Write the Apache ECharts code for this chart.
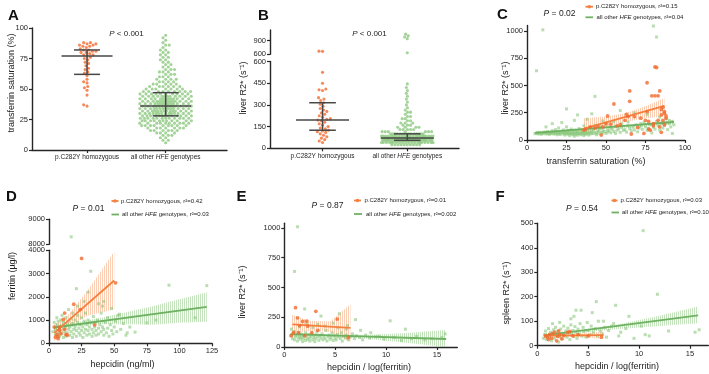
<!DOCTYPE html>
<html>
<head>
<meta charset="utf-8">
<script src="https://cdn.jsdelivr.net/npm/echarts@6/dist/echarts.min.js"></script>
<style>
html, body { margin: 0; padding: 0; background: #fff; }
#main { width: 709px; height: 374px; }
</style>
</head>
<body>
<div id="main"></div>
<script>
// ---- data ----
var groupNames = ['p.C282Y homozygous', 'all other HFE genotypes'];

// A: transferrin saturation (%)
var tsatC282Y = [88, 88, 87, 87, 86, 86, 85, 85, 84, 83, 82, 82, 81, 81, 80, 80, 79, 78, 78, 77,
    76, 75, 74, 72, 71, 69, 67, 66, 64, 63, 61, 58, 56, 55, 52, 51, 49, 45, 37, 36];
var tsatOtherLevel = [6, 8, 10, 12, 14, 16, 18, 20, 22, 24, 26, 28, 30, 32, 34, 36, 38, 40, 42, 44,
    46, 48, 50, 52, 54, 56, 58, 60, 62, 64, 66, 68, 70, 72, 74, 76, 78, 80, 82, 84, 86, 88, 90, 92, 94];
var tsatOtherCount = [1, 2, 2, 3, 4, 6, 7, 9, 10, 11, 12, 13, 14, 14, 14, 14, 14, 14, 13, 12,
    10, 9, 7, 6, 5, 4, 4, 3, 3, 3, 3, 2, 2, 2, 2, 2, 2, 2, 2, 1, 2, 1, 1, 1, 1];
var tsatMedian = [77, 36];
var tsatQ1 = [62, 28];
var tsatQ3 = [82, 47];

// B: liver R2* (s-1)
var liverC282Y = [670, 665, 525, 450, 410, 405, 400, 350, 340, 330, 315, 305, 290, 275, 265, 255, 245,
    235, 225, 215, 205, 200, 195, 190, 180, 170, 160, 150, 140, 135, 125, 120, 115, 110, 100, 90, 80, 70, 60, 50, 40];
var liverOtherLevel = [25, 40, 55, 70, 85, 100, 115, 130, 145, 160, 175, 190, 205, 220, 235, 250, 265, 280,
    300, 320, 340, 360, 380, 400, 420, 445, 635, 945, 980, 1010, 1045];
var liverOtherCount = [10, 20, 28, 30, 22, 14, 7, 5, 4, 3, 3, 2, 2, 2, 1, 2, 1, 1,
    1, 1, 1, 1, 1, 1, 1, 1, 1, 1, 1, 1, 1];
var liverMedian = [195, 72];
var liverQ1 = [125, 55];
var liverQ3 = [315, 100];

// C: transferrin saturation vs liver R2*
var cOrange = [[36, 90], [37, 100], [40, 120], [43, 110], [45, 125], [47, 45], [48, 120], [50, 150], [51, 220],
    [53, 145], [55, 330], [57, 130], [59, 140], [62, 180], [63, 235], [64, 215], [65, 355], [65, 450], [66, 55],
    [68, 215], [70, 115], [72, 200], [74, 60], [75, 180], [76, 525], [76, 260], [77, 100], [77, 170], [78, 90],
    [79, 405], [80, 130], [80, 150], [81, 670], [81, 405], [82, 665], [83, 405], [83, 180], [84, 450], [84, 120],
    [85, 280], [85, 230], [86, 300], [86, 180], [87, 260], [87, 245], [88, 220], [88, 200], [87, 140], [85, 70]];
var cGreen = [[6, 635], [10, 1010], [80, 1045], [82, 945], [43, 400], [25, 285], [41, 240], [32, 230], [59, 270],
    [68, 250], [76, 235], [84, 210], [88, 195], [90, 180], [92, 170], [86, 160], [80, 150], [72, 150], [64, 165],
    [55, 170], [48, 175], [38, 190], [30, 180], [22, 160], [16, 150], [12, 120],
    [5, 58], [6, 62], [7, 55], [7, 70], [8, 60], [9, 52], [9, 66], [10, 58], [11, 63], [11, 72], [12, 55], [12, 68],
    [13, 60], [13, 78], [14, 50], [14, 64], [15, 70], [15, 58], [16, 62], [16, 85], [17, 54], [17, 68], [18, 60],
    [18, 75], [18, 95], [19, 48], [19, 66], [20, 58], [20, 72], [20, 110], [21, 62], [21, 50], [22, 80], [22, 66],
    [23, 55], [23, 70], [23, 92], [24, 45], [24, 62], [24, 78], [25, 58], [25, 68], [25, 120], [26, 52], [26, 74],
    [26, 88], [27, 60], [27, 40], [27, 66], [28, 56], [28, 82], [28, 100], [29, 48], [29, 70], [29, 62], [30, 58],
    [30, 90], [30, 35], [31, 66], [31, 76], [31, 52], [32, 60], [32, 44], [32, 84], [33, 70], [33, 58], [33, 105],
    [34, 62], [34, 48], [34, 92], [35, 66], [35, 78], [35, 55], [36, 60], [36, 40], [36, 130], [37, 72], [37, 86],
    [37, 52], [38, 64], [38, 98], [38, 58], [39, 75], [39, 45], [40, 68], [40, 110], [40, 55], [41, 80], [41, 62],
    [42, 58], [42, 90], [43, 70], [43, 135], [44, 62], [44, 48], [45, 84], [45, 76], [46, 58], [46, 100], [47, 70],
    [47, 120], [48, 64], [48, 88], [49, 78], [50, 60], [50, 140], [51, 92], [51, 72], [52, 84], [53, 66], [53, 110],
    [54, 98], [55, 78], [56, 125], [56, 60], [57, 90], [58, 102], [59, 70], [60, 115], [60, 150], [61, 88], [62, 95],
    [63, 72], [64, 130], [65, 105], [66, 85], [67, 118], [68, 92], [69, 140], [70, 75], [71, 110], [72, 128],
    [73, 98], [74, 160], [75, 120], [76, 88], [77, 105], [78, 140], [79, 65], [80, 118], [81, 100], [82, 170],
    [83, 130], [84, 90], [85, 150], [86, 110], [87, 135], [88, 160], [89, 95], [90, 150], [91, 120], [92, 60], [93, 140]];
var cFitOrange = [[36, 105], [87, 312]];
var cFitGreen = [[5, 65], [93, 165]];
var cBandOrangeX = [36, 50, 62, 75, 87];
var cBandOrangeLo = [55, 120, 165, 200, 215];
var cBandOrangeHi = [200, 215, 245, 310, 385];
var cBandGreenX = [5, 30, 50, 70, 93];
var cBandGreenLo = [50, 80, 100, 118, 145];
var cBandGreenHi = [82, 96, 116, 140, 188];

// D: hepcidin vs ferritin
var dOrange = [[4, 700], [5, 260], [6, 380], [7, 200], [7, 300], [8, 690], [8, 560], [9, 420], [11, 1030], [12, 1300],
    [12, 600], [13, 380], [14, 350], [19, 1680], [24, 1450], [25, 3650], [35, 790], [51, 2600]];
var dGreen = [[17, 8300], [32, 3100], [21, 2350], [92, 2500], [121, 2480], [112, 1100], [66, 480], [59, 350],
    [75, 880], [82, 1000], [54, 1250], [48, 1500], [42, 1800], [41, 1600], [38, 1700], [30, 2200], [27, 1800],
    [22, 1600], [18, 1300], [15, 1450], [10, 1200], [6, 1100], [4, 900], [3, 500],
    [5, 600], [5, 350], [6, 800], [7, 450], [7, 950], [8, 300], [8, 700], [9, 550], [9, 1000], [10, 400], [10, 750],
    [11, 250], [11, 900], [12, 500], [12, 650], [13, 1100], [13, 300], [14, 800], [14, 450], [15, 600], [15, 950],
    [16, 350], [16, 700], [17, 1050], [17, 500], [18, 250], [18, 850], [19, 600], [19, 400], [20, 1000], [20, 700],
    [21, 300], [21, 550], [22, 900], [22, 1200], [23, 450], [23, 650], [24, 800], [24, 350], [25, 1100], [25, 550],
    [26, 250], [26, 700], [27, 950], [27, 450], [28, 600], [28, 1300], [29, 350], [29, 800], [30, 550], [30, 1000],
    [31, 400], [31, 700], [32, 900], [33, 300], [33, 600], [34, 1150], [34, 450], [35, 700], [35, 900], [36, 350],
    [36, 550], [37, 1000], [38, 650], [38, 400], [39, 800], [40, 500], [40, 1300], [41, 700], [42, 350], [42, 600],
    [43, 900], [44, 450], [45, 1100], [45, 650], [46, 300], [47, 800], [48, 550], [49, 400], [50, 700], [51, 950],
    [52, 500], [53, 1200], [55, 600], [57, 850], [60, 450], [62, 700]];
var dFitOrange = [[4, 450], [50, 2700]];
var dFitGreen = [[4, 680], [121, 1570]];
var dBandOrangeX = [4, 15, 30, 50];
var dBandOrangeLo = [100, 700, 1200, 1450];
var dBandOrangeHi = [800, 1250, 2300, 3950];
var dBandGreenX = [4, 20, 40, 60, 80, 100, 121];
var dBandGreenLo = [560, 720, 820, 820, 800, 880, 930];
var dBandGreenHi = [800, 900, 1100, 1350, 1600, 1900, 2200];

// E: hepcidin / log(ferritin) vs liver R2*
var eOrange = [[1.1, 330], [1.3, 245], [3.1, 300], [5.2, 235], [1.8, 215], [2.2, 218], [1.5, 180], [2.3, 175],
    [3.3, 140], [2.7, 120], [1.4, 120], [0.9, 120], [0.7, 95], [2.0, 95], [6.3, 80]];
var eGreen = [[1.3, 1010], [1.0, 635], [10.4, 220], [11.9, 150], [15.8, 110], [15.5, 80], [5.4, 280], [2.0, 320],
    [7.0, 230], [3.6, 260], [4.8, 200], [6.2, 180], [8.5, 120], [9.3, 90], [12.5, 70], [13.8, 60],
    [0.6, 95], [0.7, 150], [0.8, 70], [0.9, 110], [1.0, 60], [1.0, 130], [1.1, 85], [1.2, 100], [1.3, 50], [1.4, 75],
    [1.4, 120], [1.5, 90], [1.6, 65], [1.6, 110], [1.7, 80], [1.8, 45], [1.8, 100], [1.9, 70], [2.0, 95], [2.1, 55],
    [2.1, 120], [2.2, 85], [2.3, 65], [2.4, 105], [2.5, 75], [2.5, 50], [2.6, 90], [2.7, 115], [2.8, 60], [2.9, 80],
    [3.0, 100], [3.0, 45], [3.1, 70], [3.2, 125], [3.3, 85], [3.4, 55], [3.5, 95], [3.6, 75], [3.7, 110], [3.8, 60],
    [3.9, 90], [4.0, 70], [4.1, 140], [4.2, 50], [4.3, 85], [4.4, 100], [4.5, 65], [4.6, 80], [4.7, 120], [4.8, 55],
    [4.9, 95], [5.0, 75], [5.1, 60], [5.2, 105], [5.3, 85], [5.5, 70], [5.6, 120], [5.7, 50], [5.8, 90], [6.0, 75],
    [6.1, 100], [6.3, 60], [6.5, 85], [6.7, 110], [6.9, 70], [7.1, 95], [7.4, 80], [7.7, 60], [8.0, 100], [8.4, 75],
    [9.0, 85], [9.8, 65], [10.8, 80], [11.5, 55], [13.0, 90], [14.5, 70], [1.5, 170], [2.8, 165], [3.3, 190],
    [4.0, 175], [5.3, 160], [6.1, 150], [2.2, 200], [7.5, 140]];
var eFitOrange = [[0.8, 190], [6.5, 160]];
var eFitGreen = [[0.6, 108], [15.9, 67]];
var eBandOrangeX = [0.7, 2.5, 4.5, 6.5];
var eBandOrangeLo = [115, 135, 125, 45];
var eBandOrangeHi = [270, 220, 215, 360];
var eBandGreenX = [0.7, 4, 8, 12, 15.8];
var eBandGreenLo = [88, 90, 70, 35, 0];
var eBandGreenHi = [122, 108, 100, 118, 143];

// F: hepcidin / log(ferritin) vs spleen R2*
var fOrange = [[0.8, 40], [1.0, 35], [1.1, 25], [1.2, 45], [1.4, 30], [1.5, 50], [1.7, 55], [1.9, 20], [2.0, 38],
    [2.1, 60], [2.2, 45], [2.4, 28], [2.6, 42], [3.0, 55], [3.2, 58], [3.5, 40], [4.0, 45], [5.0, 40], [6.3, 35]];
var fGreen = [[10.4, 470], [11.8, 210], [5.8, 180], [7.7, 165], [4.3, 145], [3.8, 145], [9.0, 120], [15.5, 55],
    [15.9, 65], [10.6, 45], [8.0, 40], [12.9, 60], [5.4, 135], [3.6, 120], [2.2, 95], [1.5, 90], [6.5, 100], [7.3, 80],
    [3.3, 110], [0.6, 30], [0.7, 45], [0.8, 60], [0.9, 25], [1.0, 40], [1.1, 70], [1.2, 35], [1.3, 55], [1.4, 20],
    [1.5, 48], [1.6, 65], [1.7, 30], [1.8, 75], [1.9, 42], [2.0, 58], [2.1, 15], [2.2, 36], [2.3, 68], [2.4, 50],
    [2.5, 28], [2.6, 80], [2.7, 44], [2.8, 60], [2.9, 35], [3.0, 72], [3.1, 52], [3.2, 25], [3.3, 85], [3.4, 46],
    [3.5, 62], [3.6, 38], [3.7, 78], [3.8, 55], [3.9, 30], [4.0, 68], [4.1, 48], [4.2, 90], [4.4, 40], [4.5, 75],
    [4.6, 58], [4.8, 35], [4.9, 95], [5.0, 62], [5.2, 45], [5.3, 80], [5.5, 55], [5.7, 70], [5.9, 40], [6.0, 100],
    [6.2, 60], [6.4, 48], [6.6, 75], [6.8, 35], [7.0, 62], [7.5, 90], [8.2, 55], [8.7, 70], [9.5, 30], [10.2, 80], [11.0, 40]];
var fFitOrange = [[0.7, 41], [6.5, 43]];
var fFitGreen = [[0.7, 42], [15.8, 124]];
var fBandOrangeX = [0.7, 3.5, 6.5];
var fBandOrangeLo = [30, 36, 28];
var fBandOrangeHi = [52, 48, 58];
var fBandGreenX = [0.7, 4, 8, 12, 15.8];
var fBandGreenLo = [32, 52, 68, 80, 92];
var fBandGreenHi = [52, 62, 88, 122, 160];

var pText = ['P < 0.001', 'P < 0.001', 'P = 0.02', 'P = 0.01', 'P = 0.87', 'P = 0.54'];
var r2Orange = ['0.15', '0.42', '0.01', '0.03'];
var r2Green = ['0.04', '0.03', '0.002', '0.10'];

// ---- styling ----
var FONT = '"Liberation Sans", Arial, sans-serif';
var AXIS = '#262626';
var ORANGE = '#f26a2e';
var GREEN = '#8cc87e';
var ORANGE_LINE = '#f4813f';
var GREEN_LINE = '#6fb163';

function expand(levels, counts) {
    var out = [];
    levels.forEach(function (v, i) {
        for (var k = 0; k < counts[i]; k++) out.push(v);
    });
    return out;
}

// beeswarm layout: each dot goes as close to the centre line as it can without
// touching dots already placed; if the swarm would get wider than maxHalf the
// spacing is relaxed so dots overlap instead
function swarm(values, cx, unitPx, toPx, d, maxHalf) {
    var placed = [], out = [];
    values.slice().sort(function (a, b) { return a - b; }).forEach(function (v) {
        var y = toPx(v), x = null, dd = d;
        while (x === null) {
            var near = placed.filter(function (p) { return Math.abs(p.y - y) < dd; });
            var cand = [0];
            near.forEach(function (p) {
                var dx = Math.sqrt(dd * dd - (p.y - y) * (p.y - y));
                cand.push(p.x + dx, p.x - dx);
            });
            cand.sort(function (a, b) { return Math.abs(a) - Math.abs(b) || a - b; });
            for (var i = 0; i < cand.length; i++) {
                var c = cand[i];
                if (Math.abs(c) > maxHalf) break;
                var ok = near.every(function (p) {
                    var ddx = p.x - c, ddy = p.y - y;
                    return ddx * ddx + ddy * ddy >= dd * dd - 1e-6;
                });
                if (ok) { x = c; break; }
            }
            dd *= 0.85;
            if (dd < 0.3 && x === null) x = 0;
        }
        placed.push({ x: x, y: y });
        out.push([cx + x / unitPx, v]);
    });
    return out;
}

function stripes(color) {
    var c = document.createElement('canvas');
    c.width = 2; c.height = 2;
    var g = c.getContext('2d');
    g.fillStyle = color;
    g.fillRect(0, 0, 1, 2);
    return { image: c, repeat: 'repeat' };
}

function plain(v) { return '' + v; }

function valAxis(grid, min, max, ticks, extra) {
    var ax = {
        type: 'value', gridIndex: grid, min: min, max: max,
        axisLine: { show: true, onZero: false, lineStyle: { color: AXIS, width: 1.4 } },
        axisTick: { show: true, length: 3, customValues: ticks, lineStyle: { color: AXIS, width: 1.2 } },
        axisLabel: { customValues: ticks, formatter: plain, fontSize: 7.5, color: AXIS, margin: 4, fontFamily: FONT },
        splitLine: { show: false }
    };
    return Object.assign(ax, extra || {});
}

function hidden(grid, min, max) {
    return { type: 'value', gridIndex: grid, min: min, max: max, show: false };
}

function catLabel(v) {
    return v < 1.2 ? groupNames[0] : groupNames[1].replace('HFE', '{i|HFE}');
}

function pts(data, grid, color, size, symbol, z) {
    return {
        type: 'scatter', xAxisIndex: grid, yAxisIndex: grid, data: data,
        symbol: symbol || 'circle', symbolSize: size, itemStyle: { color: color },
        z: z || 2, silent: true
    };
}

function fit(data, grid, color) {
    return {
        type: 'line', xAxisIndex: grid, yAxisIndex: grid, data: data, symbol: 'none',
        lineStyle: { color: color, width: 1.8 }, z: 3, silent: true
    };
}

function band(bx, lo, hi, grid, fill) {
    return {
        type: 'custom', xAxisIndex: grid, yAxisIndex: grid, clip: true, z: 1, silent: true,
        data: bx.map(function (x, i) { return [x, lo[i], hi[i]]; }),
        renderItem: function (params, api) {
            if (params.dataIndex !== 0) return null;
            var p = [];
            for (var i = 0; i < bx.length; i++) p.push(api.coord([bx[i], hi[i]]));
            for (var j = bx.length - 1; j >= 0; j--) p.push(api.coord([bx[j], lo[j]]));
            return { type: 'polygon', shape: { points: p }, style: { fill: fill } };
        }
    };
}

function errBars(rows, grid, medHalf, capHalf) {
    return {
        type: 'custom', xAxisIndex: grid, yAxisIndex: grid, z: 6, silent: true, data: rows,
        renderItem: function (params, api) {
            var x = api.value(0);
            var p1 = api.coord([x, api.value(1)]);
            var pm = api.coord([x, api.value(2)]);
            var p3 = api.coord([x, api.value(3)]);
            var st = { stroke: '#474747', lineWidth: 1.5 };
            return {
                type: 'group', children: [
                    { type: 'line', shape: { x1: p1[0], y1: p1[1], x2: p3[0], y2: p3[1] }, style: st },
                    { type: 'line', shape: { x1: pm[0] - medHalf, y1: pm[1], x2: pm[0] + medHalf, y2: pm[1] }, style: st },
                    { type: 'line', shape: { x1: p1[0] - capHalf, y1: p1[1], x2: p1[0] + capHalf, y2: p1[1] }, style: st },
                    { type: 'line', shape: { x1: p3[0] - capHalf, y1: p3[1], x2: p3[0] + capHalf, y2: p3[1] }, style: st }
                ]
            };
        }
    };
}

function txt(x, y, text, size, opts) {
    opts = opts || {};
    return {
        type: 'text', x: x, y: y, rotation: opts.rotation || 0, silent: true,
        style: {
            text: text, fontSize: size, fontFamily: FONT, fill: opts.fill || '#222',
            fontWeight: opts.bold ? 'bold' : 'normal',
            align: opts.align || 'center', verticalAlign: 'middle',
            rich: {
                i: { fontStyle: 'italic', fontSize: size, fontFamily: FONT, fill: opts.fill || '#222' }
            }
        }
    };
}

function legendItem(x1, x2, y, tx, text, color, dot) {
    var items = [
        { type: 'line', silent: true, shape: { x1: x1, y1: y, x2: x2, y2: y }, style: { stroke: color, lineWidth: 1.8 } },
        txt(tx, y, text, 6, { align: 'left' })
    ];
    if (dot) items.push({ type: 'circle', silent: true, shape: { cx: (x1 + x2) / 2, cy: y, r: 1.7 }, style: { fill: color } });
    return items;
}

function pLabel(x, y, s, size) {
    return txt(x, y, s.replace('P', '{i|P}'), size);
}

// ---- build panels ----
var catA = [0.7, 1.7], catB = [0.62, 1.62];
var unitA = 195 / 2.48, unitB = 189 / 2.23;
function tsatPx(v) { return v * 1.22; }
var aOrange = swarm(tsatC282Y, catA[0], unitA, tsatPx, 3.6, 9);
var aGreen = swarm(expand(tsatOtherLevel, tsatOtherCount), catA[1], unitA, tsatPx, 3.6, 26);

function liverPx(v) { return v <= 600 ? v * 0.1447 : 93 + (v - 600) * 0.0453; }
var bOrange = swarm(liverC282Y, catB[0], unitB, liverPx, 3.6, 10);
var bGreen = swarm(expand(liverOtherLevel, liverOtherCount), catB[1], unitB, liverPx, 3.1, 26);
function below(d, lim) { return d.filter(function (p) { return p[1] <= lim; }); }
function above(d, lim) { return d.filter(function (p) { return p[1] > lim; }); }

var stripeOrange = stripes('rgba(246,160,110,0.5)');
var stripeGreen = stripes('rgba(128,192,112,0.45)');
var GREEN_SQ = 'rgba(135,198,120,0.72)';

var catAxisLabel = function (cats) {
    return {
        axisLabel: {
            customValues: cats, formatter: catLabel, fontSize: 6.5, color: AXIS, margin: 4, fontFamily: FONT,
            rich: { i: { fontStyle: 'italic', fontSize: 6.5, fontFamily: FONT, color: AXIS } }
        }
    };
};

var option = {
    animation: false,
    grid: [
        { left: 32, top: 28, width: 195, height: 122, outerBoundsMode: 'none' },
        { left: 270, top: 30, width: 189, height: 24.3, outerBoundsMode: 'none' },
        { left: 270, top: 61.5, width: 189, height: 86.8, outerBoundsMode: 'none' },
        { left: 527, top: 25.5, width: 158, height: 114.5, outerBoundsMode: 'none' },
        { left: 49, top: 219.3, width: 163, height: 25, outerBoundsMode: 'none' },
        { left: 49, top: 250.3, width: 163, height: 93, outerBoundsMode: 'none' },
        { left: 284.3, top: 223.2, width: 173, height: 123.8, outerBoundsMode: 'none' },
        { left: 537.3, top: 223.3, width: 171, height: 122.4, outerBoundsMode: 'none' }
    ],
    xAxis: [
        valAxis(0, 0, 2.48, catA, catAxisLabel(catA)),
        hidden(1, 0, 2.23),
        valAxis(2, 0, 2.23, catB, catAxisLabel(catB)),
        valAxis(3, 0, 100, [0, 25, 50, 75, 100]),
        hidden(4, 0, 125),
        valAxis(5, 0, 125, [0, 25, 50, 75, 100, 125]),
        valAxis(6, 0, 17, [0, 5, 10, 15]),
        valAxis(7, 0, 16.8, [0, 5, 10, 15])
    ],
    yAxis: [
        valAxis(0, 0, 100, [0, 25, 50, 75, 100]),
        valAxis(1, 600, 1136, [600, 900]),
        valAxis(2, 0, 600, [0, 150, 300, 450, 600]),
        valAxis(3, 0, 1050, [0, 250, 500, 750, 1000]),
        valAxis(4, 8000, 9000, [8000, 9000]),
        valAxis(5, 0, 4000, [0, 1000, 2000, 3000, 4000]),
        valAxis(6, 0, 1040, [0, 250, 500, 750, 1000]),
        valAxis(7, 0, 500, [0, 100, 200, 300, 400, 500])
    ],
    series: [
        // A
        pts(aOrange, 0, ORANGE, 3.1),
        pts(aGreen, 0, GREEN, 3.1),
        errBars([[catA[0], tsatQ1[0], tsatMedian[0], tsatQ3[0]], [catA[1], tsatQ1[1], tsatMedian[1], tsatQ3[1]]], 0, 25.5, 13),
        // B
        pts(below(bOrange, 600), 2, ORANGE, 3.1),
        pts(above(bOrange, 600), 1, ORANGE, 3.1),
        pts(below(bGreen, 600), 2, GREEN, 3.1),
        pts(above(bGreen, 600), 1, GREEN, 3.1),
        errBars([[catB[0], liverQ1[0], liverMedian[0], liverQ3[0]], [catB[1], liverQ1[1], liverMedian[1], liverQ3[1]]], 2, 26.5, 13.3),
        // C
        band(cBandOrangeX, cBandOrangeLo, cBandOrangeHi, 3, stripeOrange),
        band(cBandGreenX, cBandGreenLo, cBandGreenHi, 3, stripeGreen),
        pts(cGreen, 3, GREEN_SQ, 3, 'rect'),
        fit(cFitGreen, 3, GREEN_LINE),
        fit(cFitOrange, 3, ORANGE_LINE),
        pts(cOrange, 3, ORANGE, 3.8, 'circle', 4),
        // D
        band(dBandOrangeX, dBandOrangeLo, dBandOrangeHi, 5, stripeOrange),
        band(dBandGreenX, dBandGreenLo, dBandGreenHi, 5, stripeGreen),
        pts(below(dGreen, 4000), 5, GREEN_SQ, 3, 'rect'),
        pts(above(dGreen, 4000), 4, GREEN_SQ, 3, 'rect'),
        fit(dFitGreen, 5, GREEN_LINE),
        fit(dFitOrange, 5, ORANGE_LINE),
        pts(dOrange, 5, ORANGE, 3.8, 'circle', 4),
        // E
        band(eBandOrangeX, eBandOrangeLo, eBandOrangeHi, 6, stripeOrange),
        band(eBandGreenX, eBandGreenLo, eBandGreenHi, 6, stripeGreen),
        pts(eGreen, 6, GREEN_SQ, 3, 'rect'),
        fit(eFitGreen, 6, GREEN_LINE),
        fit(eFitOrange, 6, ORANGE_LINE),
        pts(eOrange, 6, ORANGE, 3.8, 'circle', 4),
        // F
        band(fBandOrangeX, fBandOrangeLo, fBandOrangeHi, 7, stripeOrange),
        band(fBandGreenX, fBandGreenLo, fBandGreenHi, 7, stripeGreen),
        pts(fGreen, 7, GREEN_SQ, 3, 'rect'),
        fit(fFitGreen, 7, GREEN_LINE),
        fit(fFitOrange, 7, ORANGE_LINE),
        pts(fOrange, 7, ORANGE, 3.8, 'circle', 4)
    ],
    graphic: [].concat(
        [
            txt(8, 16, 'A', 15, { bold: true, align: 'left', fill: '#111' }),
            txt(258, 16, 'B', 15, { bold: true, align: 'left', fill: '#111' }),
            txt(497, 15, 'C', 15, { bold: true, align: 'left', fill: '#111' }),
            txt(6, 196.5, 'D', 15, { bold: true, align: 'left', fill: '#111' }),
            txt(236.5, 196.5, 'E', 15, { bold: true, align: 'left', fill: '#111' }),
            txt(495.5, 197, 'F', 15, { bold: true, align: 'left', fill: '#111' }),

            pLabel(126.5, 34, pText[0], 8),
            pLabel(369.5, 34, pText[1], 8),
            pLabel(559.5, 13.5, pText[2], 8.5),
            pLabel(88.5, 209, pText[3], 8.5),
            pLabel(327.5, 205.5, pText[4], 8.5),
            pLabel(582, 208.5, pText[5], 8.5),

            txt(12, 83, 'transferrin saturation (%)', 9, { rotation: Math.PI / 2 }),
            txt(244, 88, 'liver R2* (s⁻¹)', 9, { rotation: Math.PI / 2 }),
            txt(506, 88, 'liver R2* (s⁻¹)', 9, { rotation: Math.PI / 2 }),
            txt(596, 162, 'transferrin saturation (%)', 9),
            txt(13, 276, 'ferritin (µg/l)', 9, { rotation: Math.PI / 2 }),
            txt(122.5, 365, 'hepcidin (ng/ml)', 9),
            txt(243, 292, 'liver R2* (s⁻¹)', 9, { rotation: Math.PI / 2 }),
            txt(369, 367.5, 'hepcidin / log(ferritin)', 9),
            txt(506.5, 293, 'spleen R2* (s⁻¹)', 9, { rotation: Math.PI / 2 }),
            txt(617, 366.5, 'hepcidin / log(ferritin)', 9)
        ],
        legendItem(585.5, 593, 6.7, 596, groupNames[0] + ', r²=' + r2Orange[0], ORANGE_LINE, true),
        legendItem(585.5, 593, 17.3, 596.5, groupNames[1].replace('HFE', '{i|HFE}') + ', r²=' + r2Green[0], GREEN_LINE, false),
        legendItem(111.5, 118.5, 201, 121, groupNames[0] + ', r²=' + r2Orange[1], ORANGE_LINE, true),
        legendItem(111.5, 119, 214.5, 122, groupNames[1].replace('HFE', '{i|HFE}') + ', r²=' + r2Green[1], GREEN_LINE, false),
        legendItem(354, 361, 200.5, 364.5, groupNames[0] + ', r²=' + r2Orange[2], ORANGE_LINE, true),
        legendItem(354, 362, 214, 366, groupNames[1].replace('HFE', '{i|HFE}') + ', r²=' + r2Green[2], GREEN_LINE, false),
        legendItem(611.5, 617.5, 200.5, 620.5, groupNames[0] + ', r²=' + r2Orange[3], ORANGE_LINE, true),
        legendItem(611.5, 619, 212.5, 622, groupNames[1].replace('HFE', '{i|HFE}') + ', r²=' + r2Green[3], GREEN_LINE, false)
    )
};

var chart = echarts.init(document.getElementById('main'), null, { renderer: 'canvas' });
chart.setOption(option);
</script>
</body>
</html>
